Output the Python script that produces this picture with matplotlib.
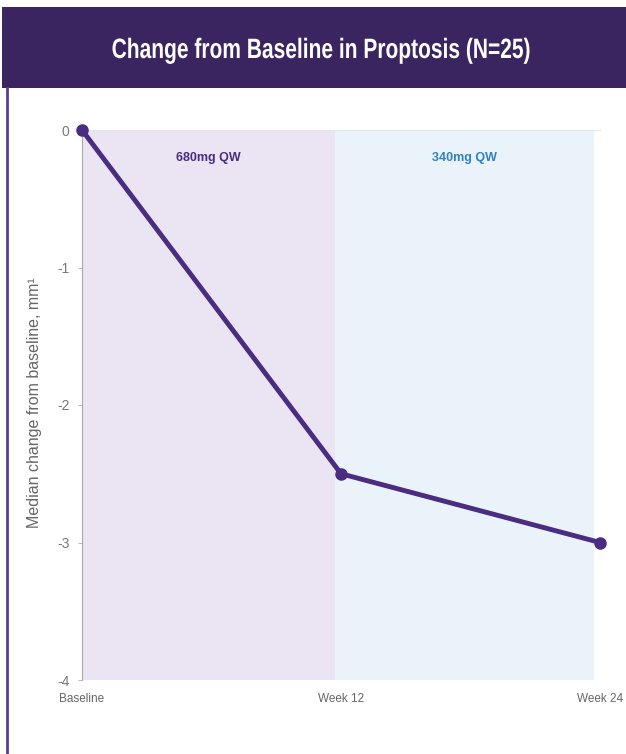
import matplotlib.pyplot as plt
from matplotlib.patches import Rectangle, PathPatch
from matplotlib.lines import Line2D
from matplotlib.textpath import TextPath
from matplotlib.font_manager import FontProperties
from matplotlib.transforms import Affine2D

# data
visits = ['Baseline', 'Week 12', 'Week 24']
weeks = [0, 12, 24]
median_change = [0, -2.5, -3.0]
dose_labels = ['680mg QW', '340mg QW']
dose_spans = [(0, 11.7), (11.7, 23.7)]
title = 'Change from Baseline in Proptosis (N=25)'

purple = '#4a2c80'
plt.rcParams['font.family'] = ['Liberation Sans', 'DejaVu Sans']

W, H = 626, 754
fig = plt.figure(figsize=(W / 100, H / 100), dpi=100)

# title banner
fig.patches.append(Rectangle((0.003, 1 - 88 / H), 0.997, 81 / H, transform=fig.transFigure,
                             facecolor='#3b2561', edgecolor='none', zorder=0))
# condensed bold title, squeezed horizontally from a text path (pixel coords)
tp = TextPath((0, 0), title, size=28, prop=FontProperties(family='Liberation Sans', weight='bold'))
bb = tp.get_extents()
squeeze = Affine2D().translate(-(bb.x0 + bb.width / 2), 0).scale(417 / bb.width, 1).translate(321, H - 58)
fig.patches.append(PathPatch(tp, transform=squeeze, facecolor='white', edgecolor='none', zorder=2))

# left border of the panel
fig.lines.append(Line2D([7 / W, 7 / W], [0, 1 - 88 / H], transform=fig.transFigure,
                        color='#5b3f91', linewidth=2))

ax = fig.add_axes([82 / W, 1 - 680 / H, 518 / W, 550 / H])
ax.axvspan(*dose_spans[0], color='#ebe5f3', zorder=0, lw=0)
ax.axvspan(*dose_spans[1], color='#eaf2fa', zorder=0, lw=0)
ax.text(sum(dose_spans[0]) / 2, -0.2, dose_labels[0], color=purple, fontsize=9,
        fontweight='bold', ha='center', va='center')
ax.text(sum(dose_spans[1]) / 2, -0.2, dose_labels[1], color='#2f83bd', fontsize=9,
        fontweight='bold', ha='center', va='center')

ax.plot(weeks, median_change, color=purple, linewidth=3.5, marker='o', markersize=8,
        clip_on=False, zorder=5)

ax.set_xlim(0, 24)
ax.set_ylim(-4, 0)
ax.set_yticks([0, -1, -2, -3, -4])
ax.set_yticklabels(['0', '-1', '-2', '-3', '-4'])
ax.set_xticks(weeks)
ax.set_xticklabels(visits)
ax.tick_params(axis='x', length=0, pad=9, labelsize=8.5, colors='#666666')
ax.tick_params(axis='y', length=3, pad=6, labelsize=10, colors='#bbbbbb', labelcolor='#777777')
for s in ['right', 'bottom']:
    ax.spines[s].set_visible(False)
ax.spines['left'].set_color('#aaaaaa')
ax.spines['top'].set_color('#e6e6e6')
ax.set_ylabel('Median change from baseline, mm\u00b9', color='#666666', fontsize=11.5)
ax.yaxis.set_label_coords(-40 / 518, 0.505)

fig.savefig('out.png', dpi=100)
